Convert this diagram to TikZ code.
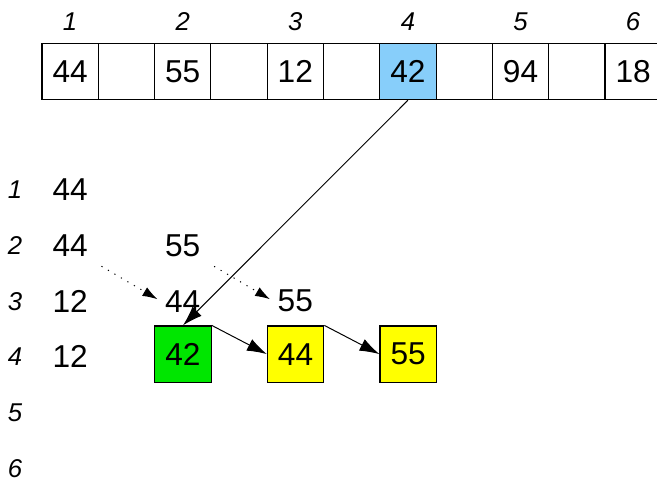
\documentclass[tikz,border=0pt]{standalone}
\usepackage{fontspec}
\setmainfont{Liberation Sans}
\usepackage{xcolor}
\usetikzlibrary{arrows.meta,calc}
\definecolor{celblue}{RGB}{135,206,250}
\definecolor{celgreen}{RGB}{0,230,0}
\definecolor{celyellow}{RGB}{255,255,0}
\tikzset{
  cell/.style = {draw, line width=0.6pt, minimum size=1cm, inner sep=0pt,
    font=\fontsize{16}{19}\selectfont},
  val/.style = {inner sep=2pt, font=\fontsize{16}{19}\selectfont},
  idx/.style = {font=\fontsize{13}{15}\selectfont\itshape},
  tip/.style = {-{Latex[length=10pt,width=6.5pt]}, line width=0.5pt},
  dots/.style = {-{Latex[length=7.5pt,width=5pt]}, line width=0.5pt,
    dash pattern=on 0.6pt off 3.2pt, shorten <=5.5pt, shorten >=2pt}
}
% value #4 at column #2, row #3, named #1, extra style #5
\newcommand{\valor}[5]{
\pgfmathsetmacro\vx{2*#2-0.754}
\pgfmathsetmacro\vy{-3.37-0.99*(#3-1)}
  \node[#5] (#1) at (\vx,\vy) {#4};
}

\begin{document}
\begin{tikzpicture}
        \clip (0,0) rectangle (11.67,-8.54);
        % the array
        \foreach \i/\v/\c in {1/44/white,2//white,3/55/white,4//white,5/12/white,6//white,
                              7/42/celblue,8//white,9/94/white,10//white,11/18/white,12//white}{
          \node[cell,fill=\c] (c\i) at (\i+0.246,-1.27) {\v};
        }
        \foreach \k in {1,...,6}{
          \node[idx] (h\k) at (2*\k-0.754,-0.39) {\k};
          \node[idx] (r\k) at (0.266,{-3.37-0.99*(\k-1)}) {\k};
        }
        % the steps
        \valor{v11}{1}{1}{44}{val}
        \valor{v21}{1}{2}{44}{val}
        \valor{v22}{2}{2}{55}{val}
        \valor{v31}{1}{3}{12}{val}
        \valor{v32}{2}{3}{44}{val}
        \valor{v33}{3}{3}{55}{val}
        \valor{v41}{1}{4}{12}{val}
        \node[cell,fill=celgreen] (b2) at (3.25,-6.29) {42};
        \node[cell,fill=celyellow] (b3) at (5.25,-6.29) {44};
        \node[cell,fill=celyellow] (b4) at (7.25,-6.29) {55};
        % arrows
        \draw[dots] (v21.south east) -- (v32.west);
        \draw[dots] (v22.south east) -- (v33.west);
        \draw[tip] (c7.south) -- (b2.north);
        \draw[tip] (b2.north east) -- (b3.west);
        \draw[tip] (b3.north east) -- (b4.west);
\end{tikzpicture}
\end{document}
